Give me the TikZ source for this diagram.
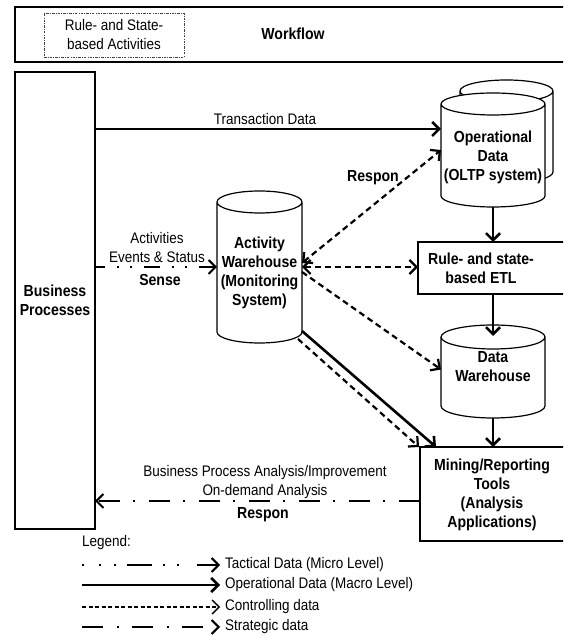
\documentclass[tikz,border=0pt]{standalone}
\usepackage{fontspec}
\setmainfont{Liberation Sans}[FakeStretch=0.88]
\usetikzlibrary{arrows.meta,calc}
\newcommand\drawcyl[2]{%
  \path[cylline] let \p1=(#1.north west), \p2=(#1.south east), \n1={(\x2-\x1)/2} in
    (\x1,\y1-#2pt) -- (\x1,\y2+#2pt) arc[start angle=180,end angle=360,x radius=\n1,y radius=#2pt]
    -- (\x2,\y1-#2pt) arc[start angle=0,end angle=180,x radius=\n1,y radius=#2pt] -- cycle
    (\x1+\n1,\y1-#2pt) ellipse[x radius=\n1,y radius=#2pt];}
\tikzset{
  lbl/.style={font=\fontsize{15.3}{19}\selectfont, align=center, inner sep=0pt},
  blbl/.style={font=\fontsize{16}{19}\selectfont\bfseries, align=center, inner sep=0pt},
  bx/.style={draw, line width=1.2pt, fill=white, outer sep=0pt},
  cylbox/.style={draw=none, inner sep=0pt, outer sep=0pt},
  cylline/.style={draw, line width=1.2pt, fill=white},
  myarrow/.style={-{Straight Barb[length=7pt,width=14pt]}},
  dblarrow/.style={{Straight Barb[length=7pt,width=14pt]}-{Straight Barb[length=7pt,width=14pt]}},
  opline/.style={line width=2.6pt, myarrow},
  ctrl/.style={line width=2.2pt, dash pattern=on 6pt off 4pt, myarrow},
  ctrlboth/.style={line width=2.2pt, dash pattern=on 6pt off 4pt, dblarrow},
  tact/.style={line width=2pt, dash pattern=on 16pt off 12pt on 2pt off 11pt on 2pt off 12pt, dash phase=6pt, myarrow},
  strat/.style={line width=2pt, dash pattern=on 21pt off 14pt on 2pt off 13pt, myarrow},
}
\begin{document}
\begin{tikzpicture}[x=1pt,y=1pt]
\useasboundingbox (0,0) rectangle (563,636);
\clip (0,0) rectangle (563,636);

% Workflow band
\node[bx, anchor=north west, minimum width=620pt, minimum height=55pt] (wfbox) at (15,629) {};
\node[draw=black!75, line width=0.8pt, dash pattern=on 2.5pt off 1.2pt on 0.8pt off 1.2pt,
      minimum width=140pt, minimum height=44pt, lbl] (rsa) at (114,601) {Rule- and State-\\based Activities};
\node[blbl] (wf) at (293,602) {Workflow};

% Business processes
\node[bx, blbl, minimum width=80pt, minimum height=457pt] (bp) at (55,335.5) {Business\\Processes};

% Operational data (double cylinder)
\node[cylbox, minimum width=93pt, minimum height=103pt] (odback) at (506.5,504.5) {};
\node[cylbox, minimum width=104pt, minimum height=114pt] (od) at (493,486) {};
\drawcyl{odback}{11}
\drawcyl{od}{11}
\node[blbl] (odtext) at (493,479) {Operational\\Data\\(OLTP system)};

% ETL
\node[bx, anchor=north west, minimum width=202pt, minimum height=52pt] (etl) at (418,394) {};
\node[blbl] (etltext) at (481,368) {Rule- and state-\\based ETL};

% Data warehouse
\node[cylbox, minimum width=104pt, minimum height=93pt] (dw) at (493,264.5) {};
\drawcyl{dw}{12}
\node[blbl] (dwtext) at (493,269) {Data\\Warehouse};

% Mining
\node[bx, anchor=north west, minimum width=200pt, minimum height=94pt] (mine) at (420,189) {};
\node[blbl] (minetext) at (492,141) {Mining/Reporting\\Tools\\(Analysis\\Applications)};

% Activity warehouse
\node[cylbox, minimum width=85pt, minimum height=152pt] (aw) at (259.5,369) {};
\drawcyl{aw}{11}
\node[blbl] (awtext) at (259.5,363.5) {Activity\\Warehouse\\(Monitoring\\System)};

% Transaction data
\coordinate (td) at (441,507);
\draw[opline] (bp.east |- td) -- (td);
\node[lbl] (tdl) at (265,517) {Transaction Data};

% Sense
\draw[tact] (bp.east |- aw.west) -- (aw.west);
\node[lbl] (sl1) at (157,388.5) {Activities\\Events \& Status};
\node[blbl] (sl2) at (160,356) {Sense};

% vertical flow
\draw[opline] (od.south) -- (od.south |- etl.north);
\draw[opline] (od.south |- etl.south) -- ([yshift=-11pt]dw.north);
\draw[opline] (dw.south) -- (dw.south |- mine.north);

% controlling
\draw[ctrlboth] ([yshift=4pt]aw.east) -- (od.west);
\draw[ctrlboth] (aw.east) -- (aw.east -| etl.west);
\draw[ctrl] ([yshift=-5pt]aw.east) -- ([yshift=2pt]dw.west);
\draw[ctrl] ([xshift=-4pt,yshift=4pt]aw.south east) -- ([xshift=-1pt]mine.north west);
\draw[opline] ([yshift=12pt]aw.south east) -- ([xshift=16pt]mine.north west);
\node[blbl] (rsp1) at (373,458) {Respon};

% strategic
\coordinate (sa) at (420,135);
\draw[strat] (sa) -- (bp.east |- sa);
\node[lbl] (bpa) at (265,153.5) {Business Process Analysis/Improvement\\On-demand Analysis};
\node[blbl] (rsp2) at (263,121) {Respon};

% legend
\node[lbl, anchor=west] (leg) at (82,93) {Legend:};
\coordinate (l1a) at (82,71);  \coordinate (l1b) at (220,71);
\coordinate (l2a) at (82,51);  \coordinate (l2b) at (220,51);
\coordinate (l3a) at (82,29);  \coordinate (l3b) at (220,29);
\coordinate (l4a) at (82,9);   \coordinate (l4b) at (220,9);
\draw[line width=2pt, dash pattern=on 2pt off 15pt on 2pt off 13pt on 2pt off 11pt on 25pt off 11pt on 2pt off 12pt on 2pt off 18pt on 40pt, myarrow] (l1a) -- (l1b);
\draw[opline] (l2a) -- (l2b);
\draw[line width=1.4pt, dash pattern=on 4pt off 2.5pt, myarrow] (l3a) -- (l3b);
\draw[strat] (l4a) -- (l4b);
\node[lbl, anchor=west] (t1) at (225,71) {Tactical Data (Micro Level)};
\node[lbl, anchor=west] (t2) at (225,51) {Operational Data (Macro Level)};
\node[lbl, anchor=west] (t3) at (225,29) {Controlling data};
\node[lbl, anchor=west] (t4) at (225,9) {Strategic data};
\end{tikzpicture}
\end{document}
